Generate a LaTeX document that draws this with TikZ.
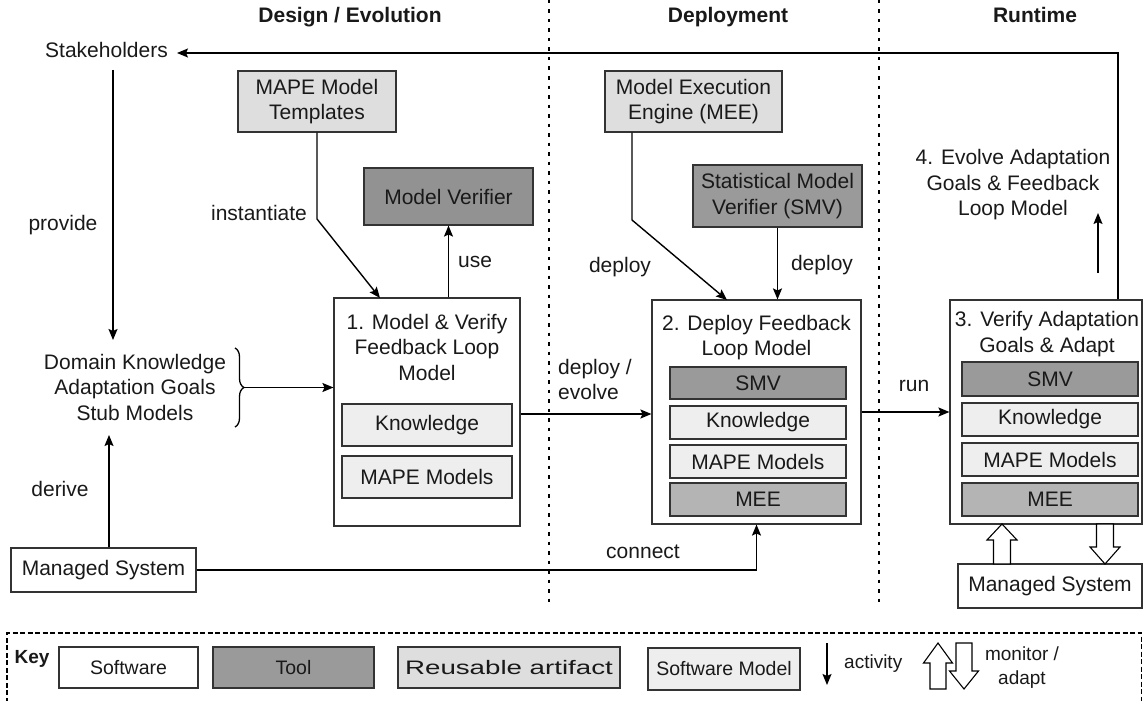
\documentclass[tikz,border=0pt]{standalone}
\usepackage{fontspec}
\setmainfont{Liberation Sans}
\usetikzlibrary{arrows.meta,decorations.pathreplacing}
\definecolor{toolc}{HTML}{9A9A9A}
\definecolor{mvc}{HTML}{929292}
\definecolor{meec}{HTML}{B4B4B4}
\definecolor{artc}{HTML}{DEDEDE}
\definecolor{smc}{HTML}{EEEEEE}
\definecolor{edge}{HTML}{333333}
\begin{document}
\begin{tikzpicture}[x=1pt,y=-1pt,
  every node/.style={font=\fontsize{21}{25.5}\selectfont, text=black!90, align=center},
  bx/.style={draw=edge, line width=1.1pt, inner sep=0pt, minimum width=#1},
  sw/.style={bx=#1, fill=white},
  tool/.style={bx=#1, fill=toolc},
  art/.style={bx=#1, fill=artc},
  smod/.style={bx=#1, fill=smc},
  lbl/.style={inner sep=0pt},
  keyfont/.style={font=\fontsize{19.5}{24}\selectfont},
  ttl/.style={font=\fontsize{21}{25}\selectfont\bfseries, anchor=base, inner sep=0pt},
  arr/.style={-{Stealth[length=11pt,width=9pt,inset=2pt]}, line width=1.4pt},
  phase/.style={draw=black, line width=1.5pt, dash pattern=on 3.5pt off 6pt},
  fat/.style={draw=black, line width=1.1pt, fill=white}
]
\useasboundingbox (0,0) rectangle (1143,701);

% phase titles
\node[ttl] (t1) at (350,22.5) {Design / Evolution};
\node[ttl] (t2) at (728,22.5) {Deployment};
\node[ttl] (t3) at (1035,22.5) {Runtime};

% phase separators
\draw[phase] (549,0) -- (549,606);
\draw[phase] (879,0) -- (879,606);

% top row
\node[lbl, inner xsep=9pt] (stake) at (106.5,50) {Stakeholders};
\node[art=158, minimum height=61] (tmpl) at (317,101.5) {MAPE Model\\Templates};
\node[tool=169, minimum height=57, fill=mvc] (mv) at (448.5,196.5) {Model Verifier};
\node[art=177, minimum height=61] (mee) at (693.5,101.5) {Model Execution\\Engine (MEE)};
\node[tool=169, minimum height=62] (smvt) at (777.5,196) {Statistical Model\\Verifier (SMV)};

% left column
\node[lbl] (dom) at (135,387) {Domain Knowledge\\Adaptation Goals\\Stub Models};
\node[sw=185, minimum height=44] (ms1) at (103.5,570) {Managed System};

% box 1
\node[sw=186, minimum height=228] (box1) at (427,412) {};
\node[lbl] (b1t) at (427,347) {1. Model \& Verify\\Feedback Loop\\Model};
\node[smod=170, minimum height=42] (k1) at (427,425) {Knowledge};
\node[smod=170, minimum height=42] (m1) at (427,477) {MAPE Models};

% box 2
\node[sw=209, minimum height=224] (box2) at (756.5,412) {};
\node[lbl] (b2t) at (756.5,337.5) {2. Deploy Feedback\\Loop Model};
\node[tool=176, minimum height=32] (s2) at (758,383) {SMV};
\node[smod=176, minimum height=33] (k2) at (758,422.5) {Knowledge};
\node[smod=176, minimum height=33] (mp2) at (758,461.5) {MAPE Models};
\node[tool=176, minimum height=33, fill=meec] (e2) at (758,499.5) {MEE};

% box 3
\node[sw=192, minimum height=224] (box3) at (1046,412) {};
\node[lbl] (b3t) at (1047,334) {3. Verify Adaptation\\Goals \& Adapt};
\node[tool=176, minimum height=34] (s3) at (1050,379) {SMV};
\node[smod=176, minimum height=33] (k3) at (1050,419.5) {Knowledge};
\node[smod=176, minimum height=33] (mp3) at (1050,459.5) {MAPE Models};
\node[tool=176, minimum height=33, fill=meec] (e3) at (1050,499.5) {MEE};
\node[sw=184, minimum height=44] (ms2) at (1050,586) {Managed System};

\node[lbl] (evo) at (1013,185) {4. Evolve Adaptation\\Goals \& Feedback\\Loop Model};

% coordinates
\coordinate (pv) at (113,0);
\coordinate (dv) at (109,0);
\coordinate (brtop) at (235,348);
\coordinate (brbot) at (235,427);
\coordinate (brtip) at (243,387.5);
\coordinate (ib) at (317,219);
\coordinate (ie) at (380,298);
\coordinate (mb) at (632,220);
\coordinate (me) at (727,300);
\coordinate (fb) at (1118,53);
\coordinate (evs) at (1098,273);
\coordinate (eve) at (1098,213);

% connectors
\draw[arr] (box3.north -| fb) -- (fb) -- (stake.east |- fb);
\draw[arr] (pv |- 0,70) -- (pv |- 0,340);
\draw[arr] (ms1.north -| dv) -- (dv |- 0,435);
\draw[decorate, decoration={brace, amplitude=9pt, aspect=0.5}, line width=1.3pt] (brtop) -- (brbot);
\draw[arr] (brtip) -- (brtip -| box1.west);
\draw[arr] (tmpl.south) -- (ib) -- (ie);
\draw[arr] (box1.north -| mv.south) -- (mv.south);
\draw[arr] (mee.south -| mb) -- (mb) -- (me);
\draw[arr] (smvt.south) -- (smvt.south |- box2.north);
\draw[arr] (box1.east |- 0,414) -- (box2.west |- 0,414);
\draw[arr] (box2.east) -- (box3.west);
\draw[arr] (ms1.east) -| (box2.south);
\draw[arr] (evs) -- (eve);

% fat arrows monitor / adapt
\draw[fat] (993.5,564) -- (993.5,540) -- (987,540) -- (1002,524) -- (1017,540) -- (1010.5,540) -- (1010.5,564) -- cycle;
\draw[fat] (1096.5,524) -- (1096.5,547) -- (1090,547) -- (1105,564) -- (1120,547) -- (1113.5,547) -- (1113.5,524) -- cycle;

% labels
\node[lbl] (linst) at (259,213) {instantiate};
\node[lbl] (lprov) at (63,225) {provide};
\node[lbl] (lder) at (60,489) {derive};
\node[lbl] (luse) at (475,262) {use};
\node[lbl] (ldep1) at (620,267) {deploy};
\node[lbl] (ldep2) at (822,265) {deploy};
\node[lbl, anchor=west, align=left] (ldev) at (558,379.5) {deploy /\\evolve};
\node[lbl] (lrun) at (914,386) {run};
\node[lbl] (lcon) at (643,552) {connect};

% key
\draw[line width=1.2pt, dash pattern=on 5pt off 2.5pt] (7,710) -- (7,633) -- (1141.5,633) -- (1141.5,710);
\node[lbl, font=\fontsize{19}{22}\selectfont\bfseries] (key) at (32,659) {Key};
\node[sw=139, minimum height=41, keyfont] (ksw) at (128.5,667.5) {Software};
\node[tool=161, minimum height=41, keyfont] (ktool) at (293.5,667.5) {Tool};
\node[art=222, minimum height=41, keyfont] (kart) at (509,667.5) {\scalebox{1.42}[1]{Reusable artifact}};
\node[smod=152, minimum height=42, keyfont] (ksm) at (724,669) {Software Model};
\coordinate (kas) at (827,643);
\coordinate (kae) at (827,685);
\draw[arr] (kas) -- (kae);
\node[lbl, font=\fontsize{19}{24}\selectfont, anchor=west] (kact) at (844,664) {activity};
\draw[fat] (930,689) -- (930,663) -- (923.5,663) -- (938,643) -- (952.5,663) -- (946,663) -- (946,689) -- cycle;
\draw[fat] (956,643) -- (956,671) -- (949.5,671) -- (964,689) -- (978.5,671) -- (972,671) -- (972,643) -- cycle;
\node[lbl, font=\fontsize{19}{24}\selectfont] (kmon) at (1022,667.5) {monitor /\\adapt};
\end{tikzpicture}
\end{document}
